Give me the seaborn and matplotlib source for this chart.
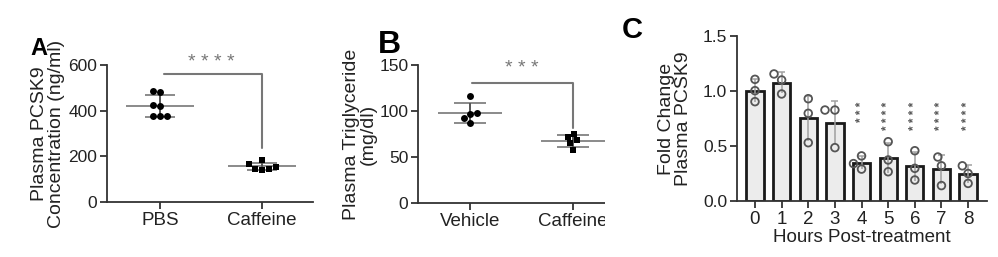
import numpy as np
import pandas as pd
import matplotlib
matplotlib.use("Agg")
import matplotlib.pyplot as plt
from matplotlib.patches import Rectangle
import seaborn as sns

# ---------------- data ----------------
a_groups = ["PBS", "Caffeine"]
a_pbs = [480, 485, 425, 420, 375, 375, 378]
a_caf = [186, 165, 146, 139, 146, 152]
a_sig = "* * * *"

b_groups = ["Vehicle", "Caffeine"]
b_veh = [116, 98, 97, 92, 87.5]
b_caf = [72, 75, 68, 65, 58]
b_sig = "* * *"

c_hours = ["0", "1", "2", "3", "4", "5", "6", "7", "8"]
c_h0 = [1.106, 1.003, 0.903]
c_h1 = [1.155, 1.100, 0.973]
c_h2 = [0.930, 0.797, 0.530]
c_h3 = [0.827, 0.827, 0.485]
c_h4 = [0.410, 0.340, 0.290]
c_h5 = [0.539, 0.373, 0.266]
c_h6 = [0.457, 0.297, 0.191]
c_h7 = [0.400, 0.320, 0.140]
c_h8 = [0.320, 0.250, 0.160]
c_sig = ["", "", "", "", "* * *", "* * * *", "* * * *", "* * * *", "* * * *"]

# ---------------- style ----------------
sns.set_theme(style="ticks")
plt.rcParams["font.family"] = ["Liberation Sans", "DejaVu Sans"]
plt.rcParams["axes.linewidth"] = 1.3
plt.rcParams["axes.edgecolor"] = "#333333"
plt.rcParams["xtick.color"] = "#333333"
plt.rcParams["ytick.color"] = "#333333"
plt.rcParams["xtick.labelcolor"] = "#222222"
plt.rcParams["ytick.labelcolor"] = "#222222"

W, H = 998, 257
fig = plt.figure(figsize=(W / 100, H / 100), dpi=100)


def ax_px(left, top, right, bottom):
    return fig.add_axes([left / W, 1 - bottom / H, (right - left) / W, (bottom - top) / H])


GRAY = "#8a8a8a"
TXT = "#222222"
FSX = 13.5
FSY = 12.5
FSL = 14


def style_axes(ax):
    sns.despine(ax=ax)
    ax.tick_params(axis="both", length=5, width=1.3, pad=2)
    ax.tick_params(axis="x", labelsize=FSX)
    ax.tick_params(axis="y", labelsize=FSY)


def scatter_panel(ax, groups, g1, g2, mean_half, sd_half):
    df = pd.DataFrame({
        "group": [groups[0]] * len(g1) + [groups[1]] * len(g2),
        "value": list(g1) + list(g2),
    })
    sns.swarmplot(data=df[df.group == groups[0]], x="group", y="value", order=groups,
                  marker="o", color="black", size=5, ax=ax, zorder=3)
    sns.swarmplot(data=df[df.group == groups[1]], x="group", y="value", order=groups,
                  marker="s", color="black", size=5, ax=ax, zorder=3)
    stats = df.groupby("group")["value"].agg(["mean", "std"]).reindex(groups)
    for i, g in enumerate(groups):
        m, s = stats.loc[g, "mean"], stats.loc[g, "std"]
        ax.hlines(m, i - mean_half, i + mean_half, color=GRAY, lw=1.4, zorder=2)
        ax.hlines([m - s, m + s], i - sd_half, i + sd_half, color=GRAY, lw=1.4, zorder=2)
        ax.vlines(i, m - s, m + s, color="#555555", lw=1.4, zorder=2)
    return stats


# ---------------- Panel A ----------------
axA = ax_px(107, 65, 313, 202)
scatter_panel(axA, a_groups, a_pbs, a_caf, 0.33, 0.15)
axA.set_ylim(0, 600)
axA.set_xlim(-0.52, 1.5)
axA.set_yticks([0, 200, 400, 600])
axA.set_xlabel("")
axA.set_ylabel("Plasma PCSK9\nConcentration (ng/ml)", fontsize=FSL, color=TXT,
               linespacing=1.0)
axA.yaxis.set_label_coords(-0.204, 0.5)
style_axes(axA)
axA.plot([0.04, 1, 1], [559, 559, 236], color="#777777", lw=1.5, clip_on=False)
axA.text(0.5, 613, a_sig, ha="center", va="center", fontsize=14, color="#777777")
fig.text(30 / W, 1 - 55 / H, "A", fontsize=17, fontweight="bold", color="black",
         ha="left", va="baseline", zorder=12)

# ---------------- Panel B ----------------
axB = ax_px(418, 65, 618, 203)
scatter_panel(axB, b_groups, b_veh, b_caf, 0.31, 0.155)
axB.set_ylim(0, 150)
axB.set_xlim(-0.505, 1.437)
axB.set_yticks([0, 50, 100, 150])
axB.set_xlabel("")
axB.set_ylabel("Plasma Triglyceride\n(mg/dl)", fontsize=FSL, color=TXT, linespacing=1.0)
axB.yaxis.set_label_coords(-0.205, 0.5)
style_axes(axB)
axB.plot([0.02, 1, 1], [130.8, 130.8, 81.5], color="#777777", lw=1.5, clip_on=False)
axB.text(0.5, 146.5, b_sig, ha="center", va="center", fontsize=14, color="#777777")
fig.text(378 / W, 1 - 53 / H, "B", fontsize=23, fontweight="bold", color="black",
         ha="left", va="baseline", zorder=12)

# white strip hiding the cut-off right edge of panel B
fig.add_artist(Rectangle((605 / W, 0), 16 / W, 1, transform=fig.transFigure,
                         facecolor="white", edgecolor="none", zorder=10))

# ---------------- Panel C ----------------
axC = ax_px(737, 36, 987, 201)
c_vals = [c_h0, c_h1, c_h2, c_h3, c_h4, c_h5, c_h6, c_h7, c_h8]
dfc = pd.DataFrame({
    "hour": [h for h, v in zip(c_hours, c_vals) for _ in v],
    "fold": [x for v in c_vals for x in v],
})
sns.barplot(data=dfc, x="hour", y="fold", order=c_hours, errorbar=None,
            color="#ececec", edgecolor="#1a1a1a", linewidth=2.0, width=0.65,
            saturation=1, ax=axC, zorder=1)
cst = dfc.groupby("hour")["fold"].agg(["mean", "std"]).reindex(c_hours)
for i, h in enumerate(c_hours):
    m, s = cst.loc[h, "mean"], cst.loc[h, "std"]
    axC.vlines(i, m - s, m + s, color="#a0a0a0", lw=1.1, zorder=2)
    axC.hlines(m + s, i - 0.13, i + 0.13, color="#a0a0a0", lw=1.1, zorder=2)
n_before = len(axC.collections)
sns.swarmplot(data=dfc, x="hour", y="fold", order=c_hours, color="white", size=5.5,
              edgecolor="#555555", linewidth=1.3, ax=axC, zorder=3)
for coll in axC.collections[n_before:]:
    coll.set_facecolor("none")
    coll.set_edgecolor("#555555")
    coll.set_linewidth(1.3)
for i, s in enumerate(c_sig):
    if s:
        axC.text(i, 0.905, s, rotation=90, ha="center", va="top", fontsize=8.5,
                 color="#555555", fontweight="bold")
axC.set_ylim(0, 1.5)
axC.set_xlim(-0.675, 8.71)
axC.set_yticks([0.0, 0.5, 1.0, 1.5])
axC.set_yticklabels(["0.0", "0.5", "1.0", "1.5"])
axC.set_xlabel("Hours Post-treatment", fontsize=FSX, color=TXT, labelpad=1)
axC.set_ylabel("Fold Change\nPlasma PCSK9", fontsize=FSL, color=TXT, linespacing=1.0)
axC.yaxis.set_label_coords(-0.18, 0.5)
style_axes(axC)
fig.text(622 / W, 1 - 38 / H, "C", fontsize=21, fontweight="bold", color="black",
         ha="left", va="baseline", zorder=12)

fig.savefig("out.png", dpi=100)
